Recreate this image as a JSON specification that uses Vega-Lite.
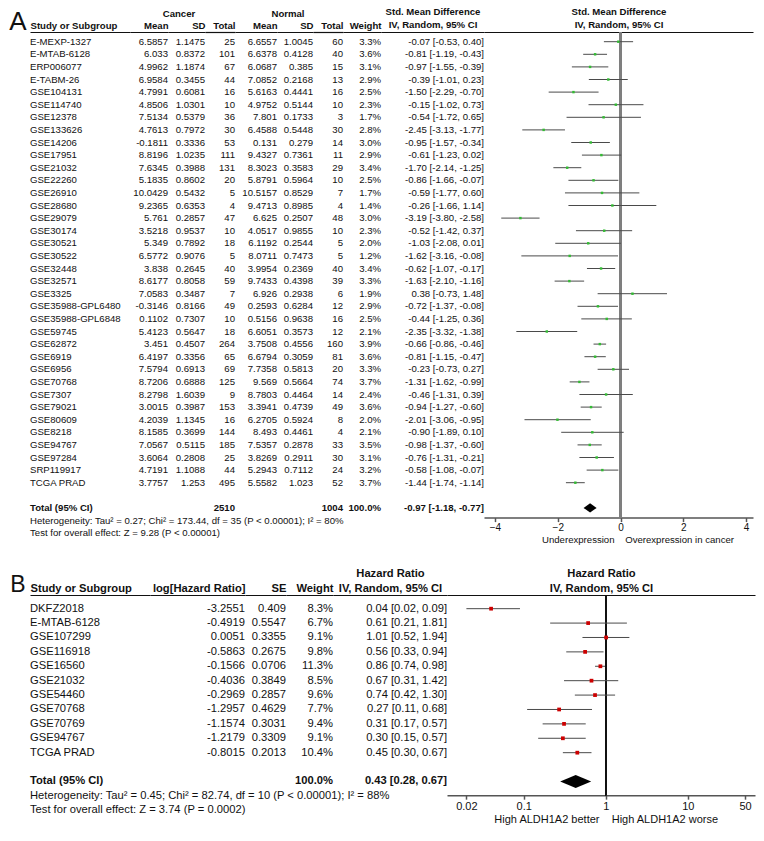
{
"$schema": "https://vega.github.io/schema/vega-lite/v6.json",
"padding": {"left": 8, "top": 6, "right": 5, "bottom": 5},
"background": "white",
"config": {
  "font": "Liberation Sans",
  "view": {"stroke": null},
  "text": {"fontSize": 9.6, "color": "#111"},
  "axis": {"grid": false, "domainColor": "#111", "labelColor": "#111", "titleColor": "#111", "labelFont": "Liberation Sans", "titleFont": "Liberation Sans"},
  "axisTop": {"labels": false, "ticks": false, "domainWidth": 1.2, "titleFontWeight": "bold", "titleFontSize": 9.6, "titlePadding": 2},
  "axisBottom": {"domainColor": "#555", "tickColor": "#555", "domainWidth": 1.5, "tickWidth": 1.5, "tickSize": 4, "labelPadding": 1, "titlePadding": 2, "titleFontWeight": "normal", "labelFontSize": 10, "titleFontSize": 9.6},
  "title": {"fontWeight": "bold", "fontSize": 9.6, "offset": 1, "color": "#111"}
},
"datasets": {
  "a": [
    {"study": "E-MEXP-1327", "cm": 6.5857, "csd": 1.1475, "ct": 25, "nm": 6.6557, "nsd": 1.0045, "nt": 60, "w": 0.033, "smd": -0.07, "lo": -0.53, "hi": 0.40, "ci": "-0.07 [-0.53, 0.40]"},
    {"study": "E-MTAB-6128", "cm": 6.033, "csd": 0.8372, "ct": 101, "nm": 6.6378, "nsd": 0.4128, "nt": 40, "w": 0.036, "smd": -0.81, "lo": -1.19, "hi": -0.43, "ci": "-0.81 [-1.19, -0.43]"},
    {"study": "ERP006077", "cm": 4.9962, "csd": 1.1874, "ct": 67, "nm": 6.0687, "nsd": 0.385, "nt": 15, "w": 0.031, "smd": -0.97, "lo": -1.55, "hi": -0.39, "ci": "-0.97 [-1.55, -0.39]"},
    {"study": "E-TABM-26", "cm": 6.9584, "csd": 0.3455, "ct": 44, "nm": 7.0852, "nsd": 0.2168, "nt": 13, "w": 0.029, "smd": -0.39, "lo": -1.01, "hi": 0.23, "ci": "-0.39 [-1.01, 0.23]"},
    {"study": "GSE104131", "cm": 4.7991, "csd": 0.6081, "ct": 16, "nm": 5.6163, "nsd": 0.4441, "nt": 16, "w": 0.025, "smd": -1.50, "lo": -2.29, "hi": -0.70, "ci": "-1.50 [-2.29, -0.70]"},
    {"study": "GSE114740", "cm": 4.8506, "csd": 1.0301, "ct": 10, "nm": 4.9752, "nsd": 0.5144, "nt": 10, "w": 0.023, "smd": -0.15, "lo": -1.02, "hi": 0.73, "ci": "-0.15 [-1.02, 0.73]"},
    {"study": "GSE12378", "cm": 7.5134, "csd": 0.5379, "ct": 36, "nm": 7.801, "nsd": 0.1733, "nt": 3, "w": 0.017, "smd": -0.54, "lo": -1.72, "hi": 0.65, "ci": "-0.54 [-1.72, 0.65]"},
    {"study": "GSE133626", "cm": 4.7613, "csd": 0.7972, "ct": 30, "nm": 6.4588, "nsd": 0.5448, "nt": 30, "w": 0.028, "smd": -2.45, "lo": -3.13, "hi": -1.77, "ci": "-2.45 [-3.13, -1.77]"},
    {"study": "GSE14206", "cm": -0.1811, "csd": 0.3336, "ct": 53, "nm": 0.131, "nsd": 0.279, "nt": 14, "w": 0.030, "smd": -0.95, "lo": -1.57, "hi": -0.34, "ci": "-0.95 [-1.57, -0.34]"},
    {"study": "GSE17951", "cm": 8.8196, "csd": 1.0235, "ct": 111, "nm": 9.4327, "nsd": 0.7361, "nt": 11, "w": 0.029, "smd": -0.61, "lo": -1.23, "hi": 0.02, "ci": "-0.61 [-1.23, 0.02]"},
    {"study": "GSE21032", "cm": 7.6345, "csd": 0.3988, "ct": 131, "nm": 8.3023, "nsd": 0.3583, "nt": 29, "w": 0.034, "smd": -1.70, "lo": -2.14, "hi": -1.25, "ci": "-1.70 [-2.14, -1.25]"},
    {"study": "GSE22260", "cm": 5.1835, "csd": 0.8602, "ct": 20, "nm": 5.8791, "nsd": 0.5964, "nt": 10, "w": 0.025, "smd": -0.86, "lo": -1.66, "hi": -0.07, "ci": "-0.86 [-1.66, -0.07]"},
    {"study": "GSE26910", "cm": 10.0429, "csd": 0.5432, "ct": 5, "nm": 10.5157, "nsd": 0.8529, "nt": 7, "w": 0.017, "smd": -0.59, "lo": -1.77, "hi": 0.60, "ci": "-0.59 [-1.77, 0.60]"},
    {"study": "GSE28680", "cm": 9.2365, "csd": 0.6353, "ct": 4, "nm": 9.4713, "nsd": 0.8985, "nt": 4, "w": 0.014, "smd": -0.26, "lo": -1.66, "hi": 1.14, "ci": "-0.26 [-1.66, 1.14]"},
    {"study": "GSE29079", "cm": 5.761, "csd": 0.2857, "ct": 47, "nm": 6.625, "nsd": 0.2507, "nt": 48, "w": 0.030, "smd": -3.19, "lo": -3.80, "hi": -2.58, "ci": "-3.19 [-3.80, -2.58]"},
    {"study": "GSE30174", "cm": 3.5218, "csd": 0.9537, "ct": 10, "nm": 4.0517, "nsd": 0.9855, "nt": 10, "w": 0.023, "smd": -0.52, "lo": -1.42, "hi": 0.37, "ci": "-0.52 [-1.42, 0.37]"},
    {"study": "GSE30521", "cm": 5.349, "csd": 0.7892, "ct": 18, "nm": 6.1192, "nsd": 0.2544, "nt": 5, "w": 0.020, "smd": -1.03, "lo": -2.08, "hi": 0.01, "ci": "-1.03 [-2.08, 0.01]"},
    {"study": "GSE30522", "cm": 6.5772, "csd": 0.9076, "ct": 5, "nm": 8.0711, "nsd": 0.7473, "nt": 5, "w": 0.012, "smd": -1.62, "lo": -3.16, "hi": -0.08, "ci": "-1.62 [-3.16, -0.08]"},
    {"study": "GSE32448", "cm": 3.838, "csd": 0.2645, "ct": 40, "nm": 3.9954, "nsd": 0.2369, "nt": 40, "w": 0.034, "smd": -0.62, "lo": -1.07, "hi": -0.17, "ci": "-0.62 [-1.07, -0.17]"},
    {"study": "GSE32571", "cm": 8.6177, "csd": 0.8058, "ct": 59, "nm": 9.7433, "nsd": 0.4398, "nt": 39, "w": 0.033, "smd": -1.63, "lo": -2.10, "hi": -1.16, "ci": "-1.63 [-2.10, -1.16]"},
    {"study": "GSE3325", "cm": 7.0583, "csd": 0.3487, "ct": 7, "nm": 6.926, "nsd": 0.2938, "nt": 6, "w": 0.019, "smd": 0.38, "lo": -0.73, "hi": 1.48, "ci": "0.38 [-0.73, 1.48]"},
    {"study": "GSE35988-GPL6480", "cm": -0.3146, "csd": 0.8166, "ct": 49, "nm": 0.2593, "nsd": 0.6284, "nt": 12, "w": 0.029, "smd": -0.72, "lo": -1.37, "hi": -0.08, "ci": "-0.72 [-1.37, -0.08]"},
    {"study": "GSE35988-GPL6848", "cm": 0.1102, "csd": 0.7307, "ct": 10, "nm": 0.5156, "nsd": 0.9638, "nt": 16, "w": 0.025, "smd": -0.44, "lo": -1.25, "hi": 0.36, "ci": "-0.44 [-1.25, 0.36]"},
    {"study": "GSE59745", "cm": 5.4123, "csd": 0.5647, "ct": 18, "nm": 6.6051, "nsd": 0.3573, "nt": 12, "w": 0.021, "smd": -2.35, "lo": -3.32, "hi": -1.38, "ci": "-2.35 [-3.32, -1.38]"},
    {"study": "GSE62872", "cm": 3.451, "csd": 0.4507, "ct": 264, "nm": 3.7508, "nsd": 0.4556, "nt": 160, "w": 0.039, "smd": -0.66, "lo": -0.86, "hi": -0.46, "ci": "-0.66 [-0.86, -0.46]"},
    {"study": "GSE6919", "cm": 6.4197, "csd": 0.3356, "ct": 65, "nm": 6.6794, "nsd": 0.3059, "nt": 81, "w": 0.036, "smd": -0.81, "lo": -1.15, "hi": -0.47, "ci": "-0.81 [-1.15, -0.47]"},
    {"study": "GSE6956", "cm": 7.5794, "csd": 0.6913, "ct": 69, "nm": 7.7358, "nsd": 0.5813, "nt": 20, "w": 0.033, "smd": -0.23, "lo": -0.73, "hi": 0.27, "ci": "-0.23 [-0.73, 0.27]"},
    {"study": "GSE70768", "cm": 8.7206, "csd": 0.6888, "ct": 125, "nm": 9.569, "nsd": 0.5664, "nt": 74, "w": 0.037, "smd": -1.31, "lo": -1.62, "hi": -0.99, "ci": "-1.31 [-1.62, -0.99]"},
    {"study": "GSE7307", "cm": 8.2798, "csd": 1.6039, "ct": 9, "nm": 8.7803, "nsd": 0.4464, "nt": 14, "w": 0.024, "smd": -0.46, "lo": -1.31, "hi": 0.39, "ci": "-0.46 [-1.31, 0.39]"},
    {"study": "GSE79021", "cm": 3.0015, "csd": 0.3987, "ct": 153, "nm": 3.3941, "nsd": 0.4739, "nt": 49, "w": 0.036, "smd": -0.94, "lo": -1.27, "hi": -0.60, "ci": "-0.94 [-1.27, -0.60]"},
    {"study": "GSE80609", "cm": 4.2039, "csd": 1.1345, "ct": 16, "nm": 6.2705, "nsd": 0.5924, "nt": 8, "w": 0.020, "smd": -2.01, "lo": -3.06, "hi": -0.95, "ci": "-2.01 [-3.06, -0.95]"},
    {"study": "GSE8218", "cm": 8.1585, "csd": 0.3699, "ct": 144, "nm": 8.493, "nsd": 0.4461, "nt": 4, "w": 0.021, "smd": -0.90, "lo": -1.89, "hi": 0.10, "ci": "-0.90 [-1.89, 0.10]"},
    {"study": "GSE94767", "cm": 7.0567, "csd": 0.5115, "ct": 185, "nm": 7.5357, "nsd": 0.2878, "nt": 33, "w": 0.035, "smd": -0.98, "lo": -1.37, "hi": -0.60, "ci": "-0.98 [-1.37, -0.60]"},
    {"study": "GSE97284", "cm": 3.6064, "csd": 0.2808, "ct": 25, "nm": 3.8269, "nsd": 0.2911, "nt": 30, "w": 0.031, "smd": -0.76, "lo": -1.31, "hi": -0.21, "ci": "-0.76 [-1.31, -0.21]"},
    {"study": "SRP119917", "cm": 4.7191, "csd": 1.1088, "ct": 44, "nm": 5.2943, "nsd": 0.7112, "nt": 24, "w": 0.032, "smd": -0.58, "lo": -1.08, "hi": -0.07, "ci": "-0.58 [-1.08, -0.07]"},
    {"study": "TCGA PRAD", "cm": 3.7757, "csd": 1.253, "ct": 495, "nm": 5.5582, "nsd": 1.023, "nt": 52, "w": 0.037, "smd": -1.44, "lo": -1.74, "hi": -1.14, "ci": "-1.44 [-1.74, -1.14]"},
    {"study": " "},
    {"study": "Total (95% CI)", "ct": 2510, "nt": 1004, "w": 1.0, "smd": -0.97, "lo": -1.18, "hi": -0.77, "ci": "-0.97 [-1.18, -0.77]"},
    {"study": "Heterogeneity: Tau² = 0.27; Chi² = 173.44, df = 35 (P < 0.00001); I² = 80%"},
    {"study": "Test for overall effect: Z = 9.28 (P < 0.00001)"}
  ],
  "b": [
    {"study": "DKFZ2018", "lhr": -3.2551, "se": 0.409, "w": 0.083, "hr": 0.04, "lo": 0.02, "hi": 0.09, "ci": "0.04 [0.02, 0.09]"},
    {"study": "E-MTAB-6128", "lhr": -0.4919, "se": 0.5547, "w": 0.067, "hr": 0.61, "lo": 0.21, "hi": 1.81, "ci": "0.61 [0.21, 1.81]"},
    {"study": "GSE107299", "lhr": 0.0051, "se": 0.3355, "w": 0.091, "hr": 1.01, "lo": 0.52, "hi": 1.94, "ci": "1.01 [0.52, 1.94]"},
    {"study": "GSE116918", "lhr": -0.5863, "se": 0.2675, "w": 0.098, "hr": 0.56, "lo": 0.33, "hi": 0.94, "ci": "0.56 [0.33, 0.94]"},
    {"study": "GSE16560", "lhr": -0.1566, "se": 0.0706, "w": 0.113, "hr": 0.86, "lo": 0.74, "hi": 0.98, "ci": "0.86 [0.74, 0.98]"},
    {"study": "GSE21032", "lhr": -0.4036, "se": 0.3849, "w": 0.085, "hr": 0.67, "lo": 0.31, "hi": 1.42, "ci": "0.67 [0.31, 1.42]"},
    {"study": "GSE54460", "lhr": -0.2969, "se": 0.2857, "w": 0.096, "hr": 0.74, "lo": 0.42, "hi": 1.30, "ci": "0.74 [0.42, 1.30]"},
    {"study": "GSE70768", "lhr": -1.2957, "se": 0.4629, "w": 0.077, "hr": 0.27, "lo": 0.11, "hi": 0.68, "ci": "0.27 [0.11, 0.68]"},
    {"study": "GSE70769", "lhr": -1.1574, "se": 0.3031, "w": 0.094, "hr": 0.31, "lo": 0.17, "hi": 0.57, "ci": "0.31 [0.17, 0.57]"},
    {"study": "GSE94767", "lhr": -1.2179, "se": 0.3309, "w": 0.091, "hr": 0.30, "lo": 0.15, "hi": 0.57, "ci": "0.30 [0.15, 0.57]"},
    {"study": "TCGA PRAD", "lhr": -0.8015, "se": 0.2013, "w": 0.104, "hr": 0.45, "lo": 0.30, "hi": 0.67, "ci": "0.45 [0.30, 0.67]"},
    {"study": " "},
    {"study": "Total (95% CI)", "w": 1.0, "hr": 0.43, "lo": 0.28, "hi": 0.67, "ci": "0.43 [0.28, 0.67]"},
    {"study": "Heterogeneity: Tau² = 0.45; Chi² = 82.74, df = 10 (P < 0.00001); I² = 88%"},
    {"study": "Test for overall effect: Z = 3.74 (P = 0.0002)"}
  ]
},
"spacing": 22,
"vconcat": [
{
  "spacing": 0,
  "bounds": "flush",
  "hconcat": [
    {
      "width": 100, "height": {"step": 12.6}, "data": {"name": "a"},
      "encoding": {
        "y": {"field": "study", "type": "nominal", "sort": null, "scale": {"type": "point", "padding": 0.77},
              "axis": {"title": "A", "domain": false, "ticks": false, "labels": false, "titleAngle": 0, "titleFontSize": 26, "titleFontWeight": "normal", "titleAlign": "right", "titleBaseline": "alphabetic", "titleX": -4, "titleY": -2.5}},
        "x": {"datum": 0, "type": "quantitative", "scale": {"domain": [0, 1]}, "axis": {"orient": "top", "title": "Study or Subgroup", "titleAnchor": "start", "titleAlign": "left"}}
      },
      "layer": [
        {"mark": {"type": "text", "align": "left"}, "encoding": {"text": {"condition": {"test": "datum.study == 'Total (95% CI)'", "value": ""}, "field": "study", "type": "nominal"}}},
        {"mark": {"type": "text", "align": "left", "fontWeight": "bold"}, "encoding": {"text": {"condition": {"test": "datum.study != 'Total (95% CI)'", "value": ""}, "field": "study", "type": "nominal"}}}
      ]
    },
    {
      "width": 38, "height": {"step": 12.6}, "data": {"name": "a"},
      "mark": {"type": "text", "align": "right"},
      "encoding": {
        "y": {"field": "study", "type": "nominal", "sort": null, "scale": {"type": "point", "padding": 0.77}, "axis": null},
        "x": {"datum": 1, "type": "quantitative", "scale": {"domain": [0, 1]}, "axis": {"orient": "top", "title": "Mean", "titleAnchor": "end", "titleAlign": "right"}},
        "text": {"condition": {"test": "!isValid(datum.cm)", "value": ""}, "field": "cm", "type": "nominal"}
      }
    },
    {
      "width": 37, "height": {"step": 12.6}, "data": {"name": "a"},
      "title": {"text": "Cancer", "anchor": "middle", "dx": -7.5},
      "mark": {"type": "text", "align": "right"},
      "encoding": {
        "y": {"field": "study", "type": "nominal", "sort": null, "scale": {"type": "point", "padding": 0.77}, "axis": null},
        "x": {"datum": 1, "type": "quantitative", "scale": {"domain": [0, 1]}, "axis": {"orient": "top", "title": "SD", "titleAnchor": "end", "titleAlign": "right"}},
        "text": {"condition": {"test": "!isValid(datum.csd)", "value": ""}, "field": "csd", "type": "nominal"}
      }
    },
    {
      "width": 30, "height": {"step": 12.6}, "data": {"name": "a"},
      "encoding": {
        "y": {"field": "study", "type": "nominal", "sort": null, "scale": {"type": "point", "padding": 0.77}, "axis": null},
        "x": {"datum": 1, "type": "quantitative", "scale": {"domain": [0, 1]}, "axis": {"orient": "top", "title": "Total", "titleAnchor": "end", "titleAlign": "right"}}
      },
      "layer": [
        {"mark": {"type": "text", "align": "right"}, "encoding": {"text": {"condition": {"test": "!isValid(datum.ct) || datum.study == 'Total (95% CI)'", "value": ""}, "field": "ct", "type": "nominal"}}},
        {"mark": {"type": "text", "align": "right", "fontWeight": "bold"}, "encoding": {"text": {"condition": {"test": "datum.study != 'Total (95% CI)'", "value": ""}, "field": "ct", "type": "nominal"}}}
      ]
    },
    {
      "width": 42, "height": {"step": 12.6}, "data": {"name": "a"},
      "mark": {"type": "text", "align": "right"},
      "encoding": {
        "y": {"field": "study", "type": "nominal", "sort": null, "scale": {"type": "point", "padding": 0.77}, "axis": null},
        "x": {"datum": 1, "type": "quantitative", "scale": {"domain": [0, 1]}, "axis": {"orient": "top", "title": "Mean", "titleAnchor": "end", "titleAlign": "right"}},
        "text": {"condition": {"test": "!isValid(datum.nm)", "value": ""}, "field": "nm", "type": "nominal"}
      }
    },
    {
      "width": 36, "height": {"step": 12.6}, "data": {"name": "a"},
      "title": {"text": "Normal", "anchor": "middle", "dx": -7},
      "mark": {"type": "text", "align": "right"},
      "encoding": {
        "y": {"field": "study", "type": "nominal", "sort": null, "scale": {"type": "point", "padding": 0.77}, "axis": null},
        "x": {"datum": 1, "type": "quantitative", "scale": {"domain": [0, 1]}, "axis": {"orient": "top", "title": "SD", "titleAnchor": "end", "titleAlign": "right"}},
        "text": {"condition": {"test": "!isValid(datum.nsd)", "value": ""}, "field": "nsd", "type": "nominal"}
      }
    },
    {
      "width": 30, "height": {"step": 12.6}, "data": {"name": "a"},
      "encoding": {
        "y": {"field": "study", "type": "nominal", "sort": null, "scale": {"type": "point", "padding": 0.77}, "axis": null},
        "x": {"datum": 1, "type": "quantitative", "scale": {"domain": [0, 1]}, "axis": {"orient": "top", "title": "Total", "titleAnchor": "end", "titleAlign": "right"}}
      },
      "layer": [
        {"mark": {"type": "text", "align": "right"}, "encoding": {"text": {"condition": {"test": "!isValid(datum.nt) || datum.study == 'Total (95% CI)'", "value": ""}, "field": "nt", "type": "nominal"}}},
        {"mark": {"type": "text", "align": "right", "fontWeight": "bold"}, "encoding": {"text": {"condition": {"test": "datum.study != 'Total (95% CI)'", "value": ""}, "field": "nt", "type": "nominal"}}}
      ]
    },
    {
      "width": 38, "height": {"step": 12.6}, "data": {"name": "a"},
      "encoding": {
        "y": {"field": "study", "type": "nominal", "sort": null, "scale": {"type": "point", "padding": 0.77}, "axis": null},
        "x": {"datum": 1, "type": "quantitative", "scale": {"domain": [0, 1]}, "axis": {"orient": "top", "title": "Weight", "titleAnchor": "end", "titleAlign": "right"}}
      },
      "layer": [
        {"mark": {"type": "text", "align": "right"}, "encoding": {"text": {"condition": {"test": "!isValid(datum.w) || datum.study == 'Total (95% CI)'", "value": ""}, "field": "w", "type": "quantitative", "format": ".1%"}}},
        {"mark": {"type": "text", "align": "right", "fontWeight": "bold"}, "encoding": {"text": {"condition": {"test": "datum.study != 'Total (95% CI)'", "value": ""}, "field": "w", "type": "quantitative", "format": ".1%"}}}
      ]
    },
    {
      "width": 103, "height": {"step": 12.6}, "data": {"name": "a"},
      "encoding": {
        "y": {"field": "study", "type": "nominal", "sort": null, "scale": {"type": "point", "padding": 0.77}, "axis": null},
        "x": {"datum": 1, "type": "quantitative", "scale": {"domain": [0, 1]}, "axis": {"orient": "top", "title": ["Std. Mean Difference", "IV, Random, 95% CI"], "titleLineHeight": 13.4, "titleAnchor": "middle", "titleAlign": "center"}}
      },
      "layer": [
        {"mark": {"type": "text", "align": "right"}, "encoding": {"text": {"condition": {"test": "!isValid(datum.ci) || datum.study == 'Total (95% CI)'", "value": ""}, "field": "ci", "type": "nominal"}}},
        {"mark": {"type": "text", "align": "right", "fontWeight": "bold"}, "encoding": {"text": {"condition": {"test": "datum.study != 'Total (95% CI)'", "value": ""}, "field": "ci", "type": "nominal"}}}
      ]
    },
    {
      "width": 269, "height": {"step": 12.6}, "data": {"name": "a"},
      "resolve": {"axis": {"x": "independent"}},
      "layer": [
        {
          "mark": {"type": "rule", "color": "#7f7f7f", "strokeWidth": 1.6},
          "encoding": {"x": {"datum": 0, "type": "quantitative", "scale": {"domain": [-4.35, 4.22], "nice": false, "zero": false},
            "axis": {"orient": "top", "title": ["Std. Mean Difference", "IV, Random, 95% CI"], "titleLineHeight": 13.4}}}
        },
        {
          "transform": [{"filter": "isValid(datum.lo) && datum.study != 'Total (95% CI)'"}],
          "mark": {"type": "rule", "color": "#4a4a4a", "strokeWidth": 1},
          "encoding": {
            "y": {"field": "study", "type": "nominal", "scale": {"type": "point", "padding": 0.77, "domain": ["E-MEXP-1327","E-MTAB-6128","ERP006077","E-TABM-26","GSE104131","GSE114740","GSE12378","GSE133626","GSE14206","GSE17951","GSE21032","GSE22260","GSE26910","GSE28680","GSE29079","GSE30174","GSE30521","GSE30522","GSE32448","GSE32571","GSE3325","GSE35988-GPL6480","GSE35988-GPL6848","GSE59745","GSE62872","GSE6919","GSE6956","GSE70768","GSE7307","GSE79021","GSE80609","GSE8218","GSE94767","GSE97284","SRP119917","TCGA PRAD"," ","Total (95% CI)"]}, "axis": null},
            "x": {"field": "lo", "type": "quantitative", "scale": {"domain": [-4.35, 4.22], "nice": false, "zero": false},
              "axis": {"orient": "bottom", "values": [-4, -2, 0, 2, 4], "format": "d", "title": "Underexpression\u00a0\u00a0\u00a0\u00a0Overexpression in cancer", "titleX": 153.5}},
            "x2": {"field": "hi"}
          }
        },
        {
          "transform": [{"filter": "isValid(datum.lo) && datum.study != 'Total (95% CI)'"}],
          "mark": {"type": "square", "color": "#33bb33", "size": 6, "opacity": 1, "filled": true},
          "encoding": {
            "y": {"field": "study", "type": "nominal", "scale": {"type": "point", "padding": 0.77, "domain": ["E-MEXP-1327","E-MTAB-6128","ERP006077","E-TABM-26","GSE104131","GSE114740","GSE12378","GSE133626","GSE14206","GSE17951","GSE21032","GSE22260","GSE26910","GSE28680","GSE29079","GSE30174","GSE30521","GSE30522","GSE32448","GSE32571","GSE3325","GSE35988-GPL6480","GSE35988-GPL6848","GSE59745","GSE62872","GSE6919","GSE6956","GSE70768","GSE7307","GSE79021","GSE80609","GSE8218","GSE94767","GSE97284","SRP119917","TCGA PRAD"," ","Total (95% CI)"]}, "axis": null},
            "x": {"field": "smd", "type": "quantitative", "scale": {"domain": [-4.35, 4.22], "nice": false, "zero": false}, "axis": null}
          }
        },
        {
          "transform": [{"filter": "datum.study == 'Total (95% CI)'"}],
          "mark": {"type": "point", "shape": "M -1 0 L 0 -0.72 L 1 0 L 0 0.72 Z", "filled": true, "color": "#000", "opacity": 1, "size": 170},
          "encoding": {
            "y": {"field": "study", "type": "nominal", "scale": {"type": "point", "padding": 0.77, "domain": ["E-MEXP-1327","E-MTAB-6128","ERP006077","E-TABM-26","GSE104131","GSE114740","GSE12378","GSE133626","GSE14206","GSE17951","GSE21032","GSE22260","GSE26910","GSE28680","GSE29079","GSE30174","GSE30521","GSE30522","GSE32448","GSE32571","GSE3325","GSE35988-GPL6480","GSE35988-GPL6848","GSE59745","GSE62872","GSE6919","GSE6956","GSE70768","GSE7307","GSE79021","GSE80609","GSE8218","GSE94767","GSE97284","SRP119917","TCGA PRAD"," ","Total (95% CI)"]}, "axis": null},
            "x": {"field": "smd", "type": "quantitative", "scale": {"domain": [-4.35, 4.22], "nice": false, "zero": false}, "axis": null}
          }
        }
      ]
    }
  ]
},
{
  "spacing": 0,
  "bounds": "flush",
  "hconcat": [
    {
      "width": 120, "height": {"step": 14.4}, "data": {"name": "b"},
      "encoding": {
        "y": {"field": "study", "type": "nominal", "sort": null, "scale": {"type": "point", "padding": 0.95},
              "axis": {"title": "B", "domain": false, "ticks": false, "labels": false, "titleAngle": 0, "titleFontSize": 23, "titleFontWeight": "normal", "titleAlign": "right", "titleBaseline": "alphabetic", "titleX": -5, "titleY": -4}},
        "x": {"datum": 0, "type": "quantitative", "scale": {"domain": [0, 1]}, "axis": {"orient": "top", "title": "Study or Subgroup", "titleAnchor": "start", "titleAlign": "left", "titleFontSize": 11.2}}
      },
      "layer": [
        {"mark": {"type": "text", "align": "left", "fontSize": 11.2}, "encoding": {"text": {"condition": {"test": "datum.study == 'Total (95% CI)'", "value": ""}, "field": "study", "type": "nominal"}}},
        {"mark": {"type": "text", "align": "left", "fontSize": 11.2, "fontWeight": "bold"}, "encoding": {"text": {"condition": {"test": "datum.study != 'Total (95% CI)'", "value": ""}, "field": "study", "type": "nominal"}}}
      ]
    },
    {
      "width": 95, "height": {"step": 14.4}, "data": {"name": "b"},
      "mark": {"type": "text", "align": "right", "fontSize": 11.2},
      "encoding": {
        "y": {"field": "study", "type": "nominal", "sort": null, "scale": {"type": "point", "padding": 0.95}, "axis": null},
        "x": {"datum": 1, "type": "quantitative", "scale": {"domain": [0, 1]}, "axis": {"orient": "top", "title": "log[Hazard Ratio]", "titleAnchor": "end", "titleAlign": "right", "titleFontSize": 11.2}},
        "text": {"condition": {"test": "!isValid(datum.lhr)", "value": ""}, "field": "lhr", "type": "nominal"}
      }
    },
    {
      "width": 41, "height": {"step": 14.4}, "data": {"name": "b"},
      "mark": {"type": "text", "align": "right", "fontSize": 11.2},
      "encoding": {
        "y": {"field": "study", "type": "nominal", "sort": null, "scale": {"type": "point", "padding": 0.95}, "axis": null},
        "x": {"datum": 1, "type": "quantitative", "scale": {"domain": [0, 1]}, "axis": {"orient": "top", "title": "SE", "titleAnchor": "end", "titleAlign": "right", "titleFontSize": 11.2}},
        "text": {"condition": {"test": "!isValid(datum.se)", "value": ""}, "field": "se", "type": "nominal"}
      }
    },
    {
      "width": 47, "height": {"step": 14.4}, "data": {"name": "b"},
      "encoding": {
        "y": {"field": "study", "type": "nominal", "sort": null, "scale": {"type": "point", "padding": 0.95}, "axis": null},
        "x": {"datum": 1, "type": "quantitative", "scale": {"domain": [0, 1]}, "axis": {"orient": "top", "title": "Weight", "titleAnchor": "end", "titleAlign": "right", "titleFontSize": 11.2}}
      },
      "layer": [
        {"mark": {"type": "text", "align": "right", "fontSize": 11.2}, "encoding": {"text": {"condition": {"test": "!isValid(datum.w) || datum.study == 'Total (95% CI)'", "value": ""}, "field": "w", "type": "quantitative", "format": ".1%"}}},
        {"mark": {"type": "text", "align": "right", "fontSize": 11.2, "fontWeight": "bold"}, "encoding": {"text": {"condition": {"test": "datum.study != 'Total (95% CI)'", "value": ""}, "field": "w", "type": "quantitative", "format": ".1%"}}}
      ]
    },
    {
      "width": 114, "height": {"step": 14.4}, "data": {"name": "b"},
      "encoding": {
        "y": {"field": "study", "type": "nominal", "sort": null, "scale": {"type": "point", "padding": 0.95}, "axis": null},
        "x": {"datum": 1, "type": "quantitative", "scale": {"domain": [0, 1]}, "axis": {"orient": "top", "title": ["Hazard Ratio", "IV, Random, 95% CI"], "titleLineHeight": 15, "titleAnchor": "middle", "titleAlign": "center", "titleFontSize": 11.2}}
      },
      "layer": [
        {"mark": {"type": "text", "align": "right", "fontSize": 11.2}, "encoding": {"text": {"condition": {"test": "!isValid(datum.ci) || datum.study == 'Total (95% CI)'", "value": ""}, "field": "ci", "type": "nominal"}}},
        {"mark": {"type": "text", "align": "right", "fontSize": 11.2, "fontWeight": "bold"}, "encoding": {"text": {"condition": {"test": "datum.study != 'Total (95% CI)'", "value": ""}, "field": "ci", "type": "nominal"}}}
      ]
    },
    {
      "width": 308, "height": {"step": 14.4}, "data": {"name": "b"},
      "resolve": {"axis": {"x": "independent"}},
      "layer": [
        {
          "mark": {"type": "rule", "color": "#111", "strokeWidth": 1},
          "encoding": {"x": {"datum": 1, "type": "quantitative", "scale": {"type": "log", "domain": [0.0116, 66], "nice": false},
            "axis": {"orient": "top", "title": ["Hazard Ratio", "IV, Random, 95% CI"], "titleLineHeight": 15, "titleFontSize": 11.2}}}
        },
        {
          "transform": [{"filter": "isValid(datum.lo) && datum.study != 'Total (95% CI)'"}],
          "mark": {"type": "rule", "color": "#4a4a4a", "strokeWidth": 1},
          "encoding": {
            "y": {"field": "study", "type": "nominal", "scale": {"type": "point", "padding": 0.95, "domain": ["DKFZ2018","E-MTAB-6128","GSE107299","GSE116918","GSE16560","GSE21032","GSE54460","GSE70768","GSE70769","GSE94767","TCGA PRAD"," ","Total (95% CI)"]}, "axis": null},
            "x": {"field": "lo", "type": "quantitative", "scale": {"type": "log", "domain": [0.0116, 66], "nice": false},
              "axis": {"orient": "bottom", "values": [0.02, 0.1, 1, 10, 50], "format": "~g", "labelFontSize": 11, "titleFontSize": 11, "title": "High ALDH1A2 better\u00a0\u00a0\u00a0\u00a0High ALDH1A2 worse", "titleX": 158.7}},
            "x2": {"field": "hi"}
          }
        },
        {
          "transform": [{"filter": "isValid(datum.lo) && datum.study != 'Total (95% CI)'"}],
          "mark": {"type": "square", "color": "#cc0000", "size": 14, "opacity": 1, "filled": true},
          "encoding": {
            "y": {"field": "study", "type": "nominal", "scale": {"type": "point", "padding": 0.95, "domain": ["DKFZ2018","E-MTAB-6128","GSE107299","GSE116918","GSE16560","GSE21032","GSE54460","GSE70768","GSE70769","GSE94767","TCGA PRAD"," ","Total (95% CI)"]}, "axis": null},
            "x": {"field": "hr", "type": "quantitative", "scale": {"type": "log", "domain": [0.0116, 66], "nice": false}, "axis": null}
          }
        },
        {
          "transform": [{"filter": "datum.study == 'Total (95% CI)'"}],
          "mark": {"type": "point", "shape": "M -1 0 L 0 -0.42 L 1 0 L 0 0.42 Z", "filled": true, "color": "#000", "opacity": 1, "size": 961},
          "encoding": {
            "y": {"field": "study", "type": "nominal", "scale": {"type": "point", "padding": 0.95, "domain": ["DKFZ2018","E-MTAB-6128","GSE107299","GSE116918","GSE16560","GSE21032","GSE54460","GSE70768","GSE70769","GSE94767","TCGA PRAD"," ","Total (95% CI)"]}, "axis": null},
            "x": {"field": "hr", "type": "quantitative", "scale": {"type": "log", "domain": [0.0116, 66], "nice": false}, "axis": null}
          }
        }
      ]
    }
  ]
}
]
}
